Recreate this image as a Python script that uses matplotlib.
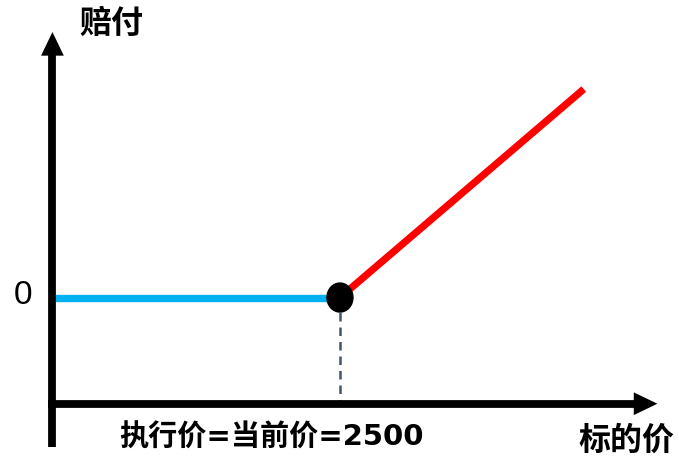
import matplotlib
matplotlib.use('Agg')
import matplotlib.pyplot as plt
from matplotlib.patches import Ellipse

plt.rcParams['font.family'] = ['Noto Sans CJK SC', 'DejaVu Sans']

# payoff of a long call, strike = current price = 2500
strike = 2500
flat_price = [0, 2500]
flat_payoff = [0, 0]
up_price = [2500, 4620]
up_payoff = [0, 2120]

y_label = '赔付'
x_label = '标的价'
zero_label = '0'
strike_label = '执行价=当前价=2500'

# axes geometry (data units)
x_min, x_max = -456, 5448
y_min, y_max = -1632, 3026
axis_y = -1080          # where the x axis sits
px_x = (x_max - x_min) / 679.0
px_y = (y_max - y_min) / 458.0

fig = plt.figure(figsize=(6.79, 4.58), dpi=100)
ax = fig.add_axes([0, 0, 1, 1])
ax.set_xlim(x_min, x_max)
ax.set_ylim(y_min, y_max)
ax.axis('off')

axis_lw = 5.6
head = dict(arrowstyle='-|>,head_length=1.7,head_width=0.82', lw=0,
            color='black', mutation_scale=10, shrinkA=0, shrinkB=0)

# y axis
y_tip = 2700
ax.plot([0, 0], [-1520, y_tip - 12 * px_y], color='black', lw=axis_lw,
        solid_capstyle='butt', zorder=3)
ax.annotate('', xy=(0, y_tip), xytext=(0, y_tip - 60 * px_y), arrowprops=head, zorder=3)

# x axis
x_tip = 5260
ax.plot([-40, x_tip - 12 * px_x], [axis_y, axis_y], color='black', lw=axis_lw,
        solid_capstyle='butt', zorder=3)
ax.annotate('', xy=(x_tip, axis_y), xytext=(x_tip - 60 * px_x, axis_y), arrowprops=head, zorder=3)

# payoff lines
ax.plot(flat_price, flat_payoff, color='#00B0F0', lw=5.3, solid_capstyle='butt', zorder=2)
ax.plot(up_price, up_payoff, color='#FF0000', lw=5.2, solid_capstyle='butt', zorder=2)

# dashed drop line from strike to x axis
ax.plot([strike, strike], [0, axis_y], color='#44546A', lw=1.8,
        dashes=(3.4, 2.4), zorder=1)

# strike point
ax.add_patch(Ellipse((strike, 0), 26 * px_x, 29 * px_y, color='black', zorder=4))

# labels
fig.text(111 / 679, 1 - 24 / 458, y_label, fontsize=23, fontweight='bold',
         ha='center', va='center')
fig.text(626 / 679, 1 - 441 / 458, x_label, fontsize=23, fontweight='bold',
         ha='center', va='center')
fig.text(23 / 679, 1 - 296 / 458, zero_label, fontsize=24, family='Liberation Sans',
         ha='center', va='center')
fig.text(271 / 679, 1 - 438 / 458, strike_label, fontsize=21, fontweight='bold',
         family=['DejaVu Sans', 'Noto Sans CJK SC'], ha='center', va='center')

fig.savefig('out.png', dpi=100)
